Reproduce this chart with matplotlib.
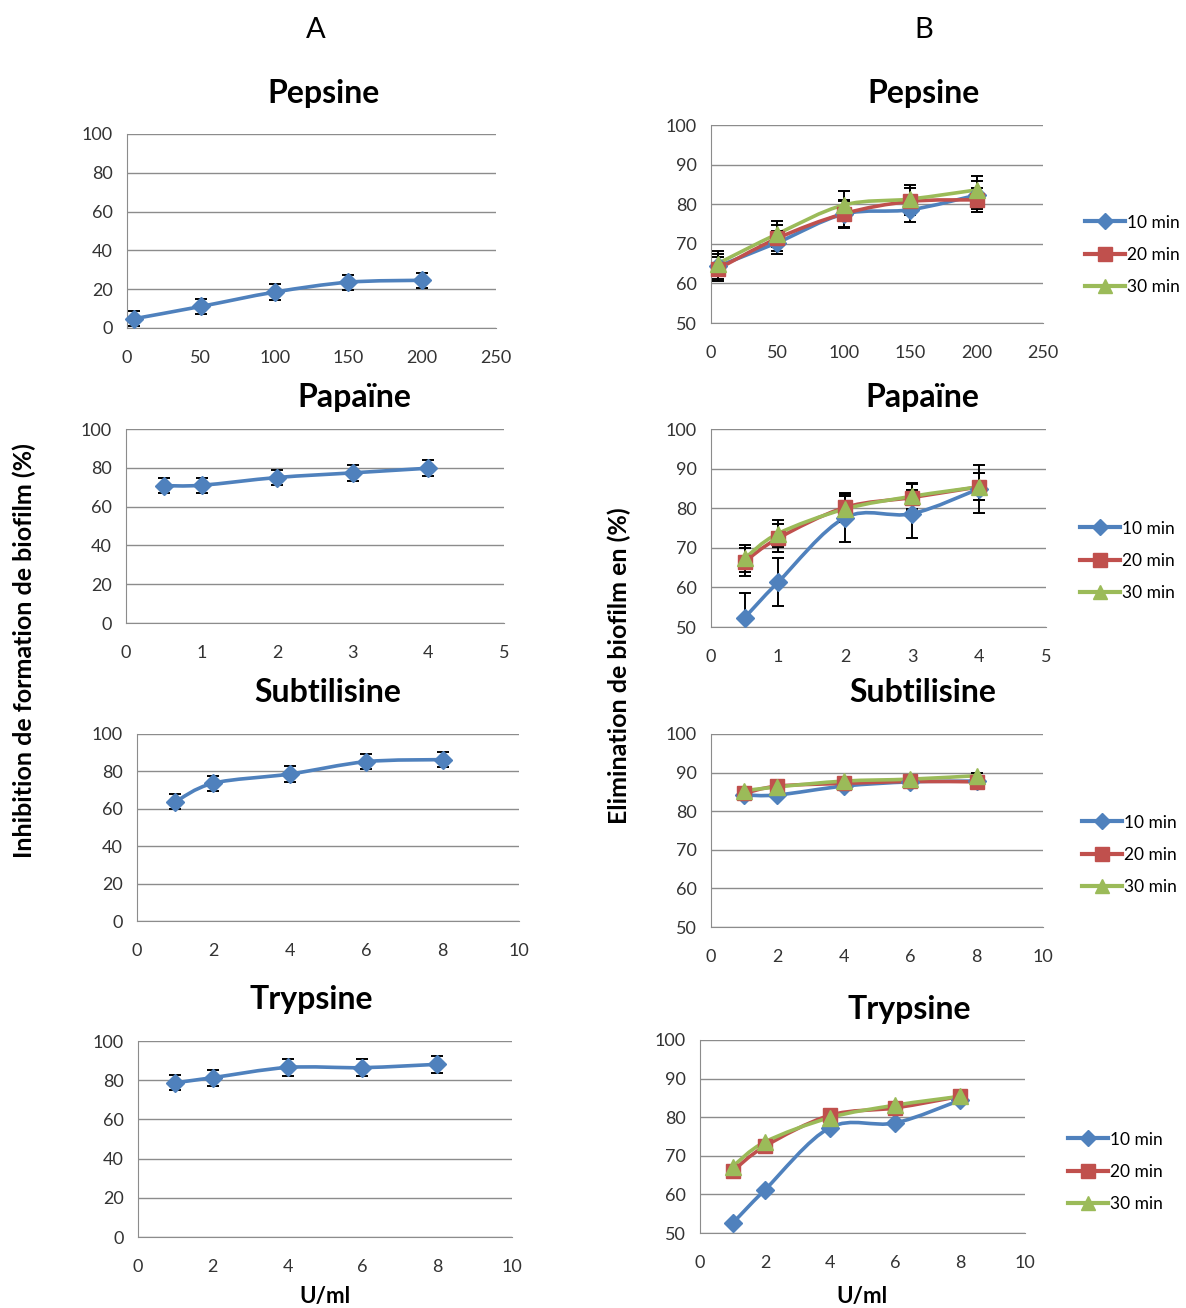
import numpy as np
import matplotlib
matplotlib.use("Agg")
import matplotlib.pyplot as plt
from matplotlib.path import Path
from matplotlib.patches import PathPatch
from matplotlib.lines import Line2D

plt.rcParams['font.family'] = ['Lato', 'DejaVu Sans']

# ---- data ----
titles = ["Pepsine", "Papaïne", "Subtilisine", "Trypsine"]
series_labels = ["10 min", "20 min", "30 min"]

x_pep = [5, 50, 100, 150, 200]
x_pap = [0.5, 1, 2, 3, 4]
x_sub = [1, 2, 4, 6, 8]
x_try = [1, 2, 4, 6, 8]

# column A : inhibition of biofilm formation
inh_pep = [4.8, 11.1, 18.5, 23.6, 24.6]
inh_pep_err = [3.8, 3.8, 4.0, 3.8, 3.8]
inh_pap = [70.8, 71.0, 75.0, 77.4, 79.8]
inh_pap_err = [3.8, 3.8, 3.8, 4.0, 4.0]
inh_sub = [63.7, 73.7, 78.6, 85.2, 86.3]
inh_sub_err = [4.0, 4.0, 4.1, 4.1, 4.1]
inh_try = [78.7, 81.3, 86.5, 86.4, 88.1]
inh_try_err = [3.9, 4.1, 4.2, 4.3, 4.4]

# column B : elimination of biofilm (10, 20, 30 min)
eli_pep_10 = [64.3, 70.3, 77.5, 78.6, 82.3]
eli_pep_20 = [63.6, 71.4, 77.6, 80.7, 81.1]
eli_pep_30 = [65.0, 72.5, 79.8, 81.3, 83.6]
eli_pep_err_10 = [3.2, 3.0, 3.3, 3.0, 3.5]
eli_pep_err_20 = [3.0, 3.3, 3.5, 3.5, 3.0]
eli_pep_err_30 = [3.2, 3.3, 3.5, 3.5, 3.5]

eli_pap_10 = [52.3, 61.3, 77.6, 78.6, 84.9]
eli_pap_20 = [66.5, 72.4, 80.2, 82.7, 85.4]
eli_pap_30 = [67.3, 73.6, 79.8, 83.0, 85.4]
eli_pap_err_10 = [6.2, 6.1, 6.2, 6.1, 6.0]
eli_pap_err_20 = [3.5, 3.5, 3.3, 3.5, 3.4]
eli_pap_err_30 = [3.5, 3.4, 3.3, 3.3, 3.4]

eli_sub_10 = [84.2, 84.2, 86.5, 87.6, 87.8]
eli_sub_20 = [84.6, 86.5, 87.2, 87.7, 87.6]
eli_sub_30 = [85.3, 86.3, 87.8, 88.3, 89.2]
eli_sub_err = [0.6, 0.6, 0.6, 0.6, 0.8]

eli_try_10 = [52.5, 61.2, 77.3, 78.5, 84.4]
eli_try_20 = [66.0, 72.5, 80.5, 82.4, 85.4]
eli_try_30 = [67.2, 73.6, 79.9, 83.1, 85.4]

W, H = 1186, 1308
BLUE, RED, GREEN = "#4F81BD", "#C0504D", "#9BBB59"
GRID = "#8C8C8C"

fig = plt.figure(figsize=(W / 100, H / 100), dpi=100)


def add_ax(l, t, r, b):
    return fig.add_axes([l / W, 1 - b / H, (r - l) / W, (b - t) / H])


def smooth_line(ax, x, y, color):
    # Excel-style smoothed line drawn as cubic bezier segments
    x = np.asarray(x, float)
    y = np.asarray(y, float)
    n = len(x)
    verts = [(x[0], y[0])]
    codes = [Path.MOVETO]
    for i in range(n - 1):
        i0 = max(i - 1, 0)
        i3 = min(i + 2, n - 1)
        c1 = (x[i] + (x[i + 1] - x[i0]) / 6, y[i] + (y[i + 1] - y[i0]) / 6)
        c2 = (x[i + 1] - (x[i3] - x[i]) / 6, y[i + 1] - (y[i3] - y[i]) / 6)
        verts += [c1, c2, (x[i + 1], y[i + 1])]
        codes += [Path.CURVE4] * 3
    ax.add_patch(PathPatch(Path(verts, codes), facecolor="none",
                           edgecolor=color, lw=2.6, zorder=3,
                           capstyle="round", joinstyle="round"))


def style_ax(ax, xlim, xticks, ylim, yticks):
    ax.set_xlim(*xlim)
    ax.set_ylim(*ylim)
    ax.set_xticks(xticks)
    ax.set_yticks(yticks)
    ax.grid(axis="y", color=GRID, lw=1.0)
    ax.set_axisbelow(True)
    for s in ["top", "right"]:
        ax.spines[s].set_visible(False)
    ax.spines["left"].set_color(GRID)
    ax.spines["bottom"].set_color(GRID)
    ax.tick_params(length=0, labelsize=13, colors="#333333")
    ax.tick_params(axis="x", pad=16)
    ax.tick_params(axis="y", pad=10)


def draw_series(ax, x, y, err, color, marker, ms):
    smooth_line(ax, x, y, color)
    if err is not None:
        ax.errorbar(x, y, yerr=err, fmt="none", ecolor="black",
                    elinewidth=1.4, capsize=4, capthick=1.4, zorder=4)
    ax.plot(x, y, ls="none", marker=marker, ms=ms, color=color,
            mec=color, zorder=5, clip_on=False)


# ---- column A ----
a_boxes = [(127, 134, 496, 328), (126, 429, 504, 623),
           (137, 734, 519, 921), (138, 1041, 512, 1237)]
a_x = [x_pep, x_pap, x_sub, x_try]
a_y = [inh_pep, inh_pap, inh_sub, inh_try]
a_err = [inh_pep_err, inh_pap_err, inh_sub_err, inh_try_err]
a_xlim = [(0, 250), (0, 5), (0, 10), (0, 10)]
a_xticks = [np.arange(0, 251, 50), np.arange(0, 6, 1),
            np.arange(0, 11, 2), np.arange(0, 11, 2)]
a_title_pos = [(323, 93), (354, 398), (328, 692), (311, 999)]

for i in range(4):
    ax = add_ax(*a_boxes[i])
    style_ax(ax, a_xlim[i], a_xticks[i], (0, 100), np.arange(0, 101, 20))
    draw_series(ax, a_x[i], a_y[i], a_err[i], BLUE, "D", 9.5)
    fig.text(a_title_pos[i][0] / W, 1 - a_title_pos[i][1] / H, titles[i],
             ha="center", va="center", fontsize=23, fontweight="bold")

# ---- column B ----
b_boxes = [(711, 125, 1043, 323), (711, 429, 1046, 627),
           (711, 734, 1043, 927), (700, 1040, 1025, 1233)]
b_x = [x_pep, x_pap, x_sub, x_try]
b_y = [(eli_pep_10, eli_pep_20, eli_pep_30),
       (eli_pap_10, eli_pap_20, eli_pap_30),
       (eli_sub_10, eli_sub_20, eli_sub_30),
       (eli_try_10, eli_try_20, eli_try_30)]
b_err = [(eli_pep_err_10, eli_pep_err_20, eli_pep_err_30),
         (eli_pap_err_10, eli_pap_err_20, eli_pap_err_30),
         (eli_sub_err, eli_sub_err, eli_sub_err),
         (None, None, None)]
b_xlim = a_xlim
b_xticks = a_xticks
b_title_pos = [(924, 93), (922, 398), (923, 692), (909, 1010)]
b_legend_pos = [(1085, 255), (1080, 561), (1082, 855), (1068, 1172)]

colors = [BLUE, RED, GREEN]
markers = [("D", 9.5), ("s", 10.5), ("^", 11.5)]

for i in range(4):
    ax = add_ax(*b_boxes[i])
    style_ax(ax, b_xlim[i], b_xticks[i], (50, 100), np.arange(50, 101, 10))
    for k in range(3):
        draw_series(ax, b_x[i], b_y[i][k], b_err[i][k], colors[k],
                    markers[k][0], markers[k][1])
    fig.text(b_title_pos[i][0] / W, 1 - b_title_pos[i][1] / H, titles[i],
             ha="center", va="center", fontsize=23, fontweight="bold")
    handles = [Line2D([], [], color=colors[k], lw=3.0, marker=markers[k][0],
                      ms=markers[k][1] * 0.9) for k in range(3)]
    lx, ly = b_legend_pos[i]
    ax.legend(handles, series_labels, loc="center left",
              bbox_to_anchor=(lx / W, 1 - ly / H), bbox_transform=fig.transFigure,
              frameon=False, fontsize=12.5, handlelength=2.3,
              handletextpad=0.1, labelspacing=0.95, borderpad=0,
              borderaxespad=0)

# ---- shared labels ----
fig.text(316 / W, 1 - 30 / H, "A", ha="center", va="center", fontsize=21)
fig.text(924 / W, 1 - 30 / H, "B", ha="center", va="center", fontsize=21)
fig.text(24 / W, 1 - 651 / H, "Inhibition de formation de biofilm (%)",
         rotation=90, ha="center", va="center", fontsize=18, fontweight="bold")
fig.text(619 / W, 1 - 666 / H, "Elimination de biofilm en (%)",
         rotation=90, ha="center", va="center", fontsize=18, fontweight="bold")
fig.text(325 / W, 1 - 1297 / H, "U/ml", ha="center", va="center",
         fontsize=16, fontweight="bold")
fig.text(862 / W, 1 - 1297 / H, "U/ml", ha="center", va="center",
         fontsize=16, fontweight="bold")

fig.savefig("out.png", dpi=100, facecolor="white")
